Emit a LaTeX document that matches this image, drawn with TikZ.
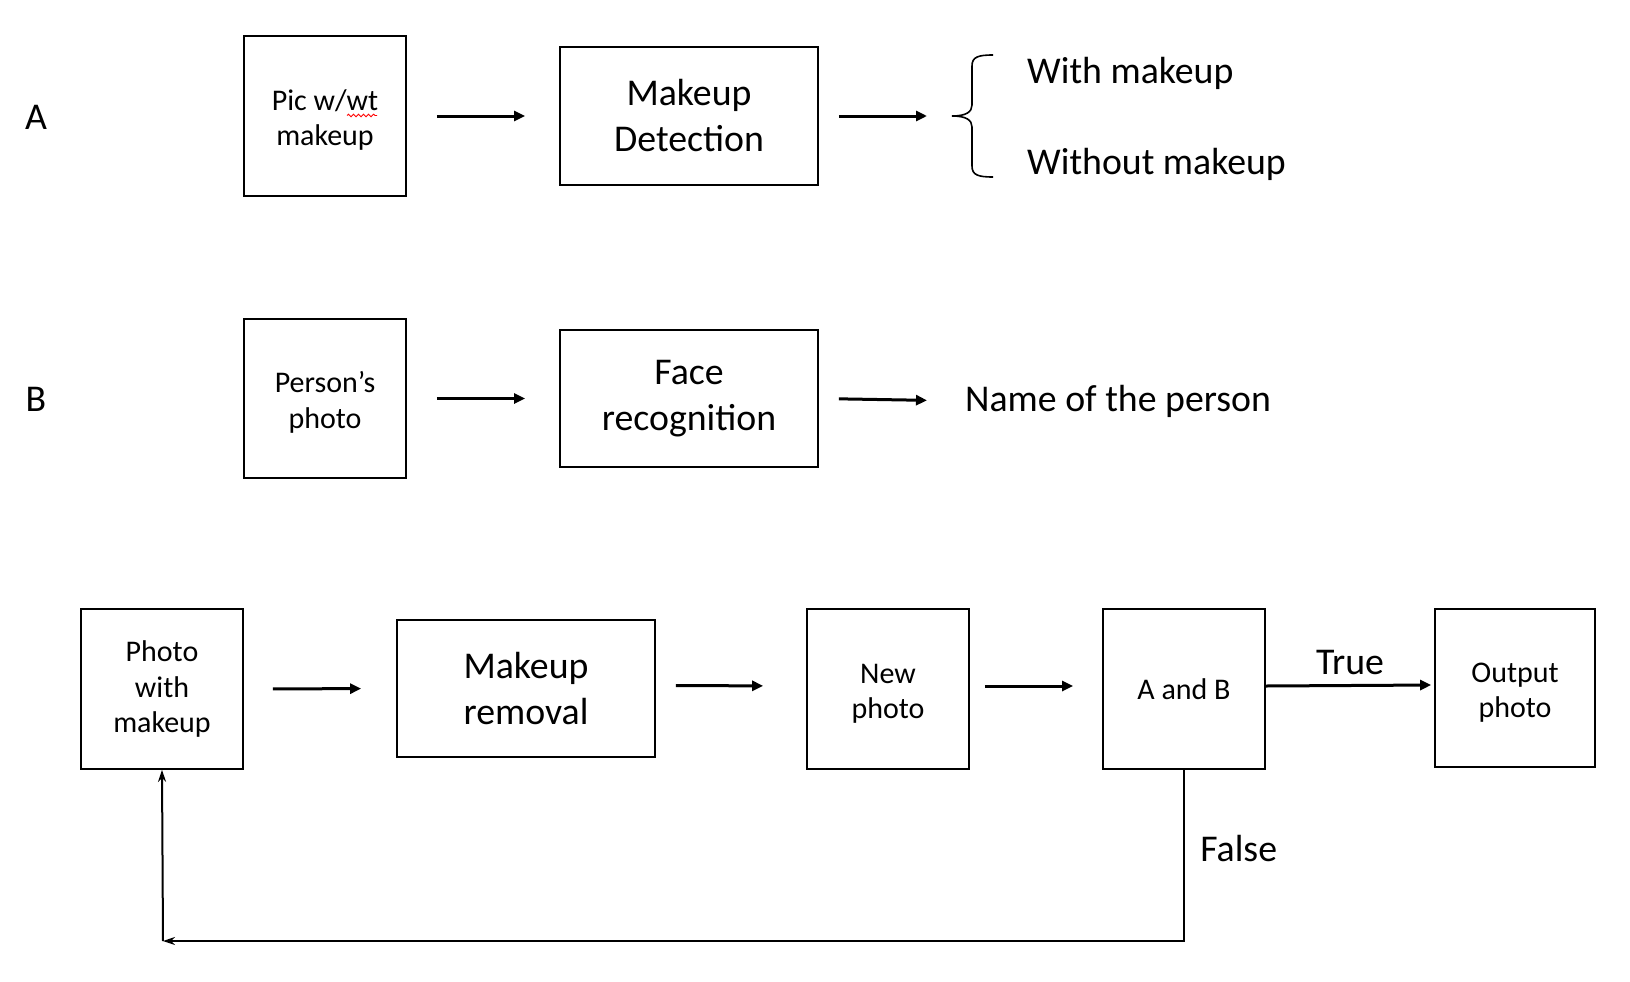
\documentclass[tikz,border=0pt]{standalone}
\usepackage{fontspec}
\setmainfont{Carlito}
\usetikzlibrary{arrows.meta,decorations.pathmorphing}
\newcommand\tallstrut{\rule{0pt}{29pt}}
\begin{document}
\begin{tikzpicture}[x=1pt,y=-1pt,
  box/.style={draw,line width=1.8pt,align=center,inner sep=0pt},
  small/.style={font=\fontsize{30}{35.5}\selectfont},
  big/.style={font=\fontsize{37.8}{46}\selectfont},
  flow/.style={line width=3pt,-{Triangle[length=11pt,width=10pt]}},
  loop/.style={line width=2pt,-{Stealth[length=12pt,width=8pt]}}
]
\useasboundingbox (0,0) rectangle (1630,982);
% Row A
\node[big] (lA) at (36,117) {A};
\node[box,small,minimum width=162pt,minimum height=160pt] (picA) at (325,116) {\tallstrut Pic w/wt\\makeup};
\node[box,big,minimum width=258pt,minimum height=138pt] (detA) at (689,116) {Makeup\\Detection};
\coordinate (braceA) at (951,116);
\node[big,anchor=west,inner sep=0pt] (withA) at (1027,73) {With makeup};
\node[big,anchor=west,inner sep=0pt] (withoutA) at (1027,164) {Without makeup};
\draw[flow,shorten <=30pt,shorten >=34pt] (picA.east) -- (detA.west);
\draw[flow,shorten <=20pt,shorten >=24pt] (detA.east |- braceA) -- (braceA);
\draw[line width=1.6pt] (993,55) .. controls (978,55) and (972,57) .. (972,66) -- (972,105)
  .. controls (972,112) and (966,116) .. (952,116)
  .. controls (966,116) and (972,120) .. (972,127) -- (972,166)
  .. controls (972,175) and (978,177) .. (993,177);
\draw[red,line width=0.9pt,decorate,decoration={snake,amplitude=1.3pt,segment length=5pt}] (347,115.5) -- (377,115.5);
% Row B
\node[big] (lB) at (36,399) {B};
\node[box,small,minimum width=162pt,minimum height=159pt] (personB) at (325,398.5) {\tallstrut Person’s\\photo};
\node[box,big,minimum width=258pt,minimum height=137pt] (faceB) at (689,398.5) {Face\\recognition};
\node[big,anchor=west,inner sep=0pt] (nameB) at (965,401) {Name of the person};
\draw[flow,shorten <=30pt,shorten >=34pt] (personB.east) -- (faceB.west);
\draw[flow,shorten <=20pt,shorten >=38pt] (faceB.east) -- (nameB.west);
% Row C
\node[box,small,minimum width=162pt,minimum height=160pt] (photo) at (162,689) {Photo\\with\\makeup};
\node[box,big,minimum width=258pt,minimum height=137pt] (removal) at (526,688.5) {Makeup\\removal};
\node[box,small,minimum width=162pt,minimum height=160pt] (newp) at (888,689) {\tallstrut New\\photo};
\node[box,small,minimum width=162pt,minimum height=160pt] (ab) at (1184,689) {A and B};
\node[box,small,minimum width=160pt,minimum height=158pt] (outp) at (1515,688) {\tallstrut Output\\photo};
\draw[flow,shorten <=29pt,shorten >=35pt] (photo.east) -- (removal.west);
\draw[flow,shorten <=20pt,shorten >=43pt] ([yshift=3pt]removal.east) -- ([yshift=3pt]newp.west);
\draw[flow,shorten <=15pt,shorten >=29pt] ([yshift=3pt]newp.east) -- ([yshift=3pt]ab.west);
\draw[flow,shorten >=3pt] ([yshift=3pt]ab.east) -- node[big,above=6pt] (trueL) {True} ([yshift=3pt]outp.west);
\coordinate (corner) at (163,941);
\draw[loop] (ab.south) |- node[big,pos=0.231,anchor=west,xshift=12pt] (falseL) {False} (corner);
\draw[loop] (corner) -- (photo.south);
\end{tikzpicture}
\end{document}
